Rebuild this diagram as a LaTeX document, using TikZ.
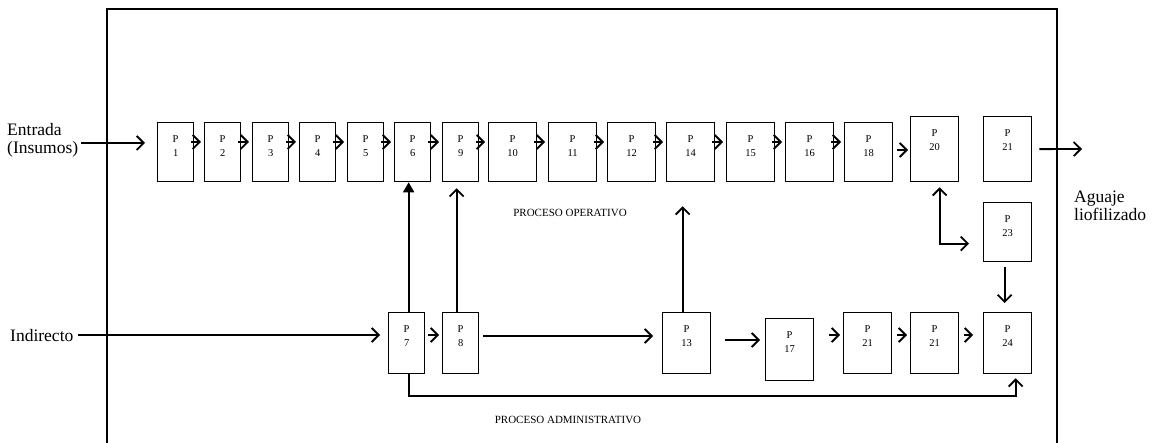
\documentclass[tikz,border=0pt]{standalone}
\usepackage{fontspec}
\setmainfont{Liberation Serif}
\usetikzlibrary{arrows.meta}

\begin{document}
\begin{tikzpicture}[x=1pt, y=-1pt, >={Straight Barb[length=7pt,width=14pt]},
        proc/.style={draw, line width=1.3pt, minimum width=36pt, minimum height=59pt, anchor=north west, inner sep=0pt},
        wide/.style={minimum width=48pt},
        ptext/.style={anchor=north, yshift=-13pt, align=center, inner sep=0pt, font=\fontsize{10.5}{14}\selectfont},
        flow/.style={->, line width=1.8pt},
        side/.style={font=\fontsize{17.5}{18}\selectfont, align=left, inner sep=0pt},
        area/.style={font=\fontsize{11}{13}\selectfont, inner sep=0pt}]
        \useasboundingbox (0,0) rectangle (1157,443);

        % marco
        \draw[line width=1.3pt] (107,443) -- (107,9) -- (1057,9) -- (1057,443);

        % proceso operativo
        \node[proc, label={[ptext]north:P\\1}] (p1) at (157,122) {};
        \node[proc, label={[ptext]north:P\\2}] (p2) at (204,122) {};
        \node[proc, label={[ptext]north:P\\3}] (p3) at (252,122) {};
        \node[proc, label={[ptext]north:P\\4}] (p4) at (299,122) {};
        \node[proc, label={[ptext]north:P\\5}] (p5) at (347,122) {};
        \node[proc, label={[ptext]north:P\\6}] (p6) at (394,122) {};
        \node[proc, label={[ptext]north:P\\9}] (p9) at (442,122) {};
        \node[proc, wide, label={[ptext]north:P\\10}] (p10) at (488,122) {};
        \node[proc, wide, label={[ptext]north:P\\11}] (p11) at (548,122) {};
        \node[proc, wide, label={[ptext]north:P\\12}] (p12) at (607,122) {};
        \node[proc, wide, label={[ptext]north:P\\14}] (p14) at (666,122) {};
        \node[proc, wide, label={[ptext]north:P\\15}] (p15) at (726,122) {};
        \node[proc, wide, label={[ptext]north:P\\16}] (p16) at (785,122) {};
        \node[proc, wide, label={[ptext]north:P\\18}] (p18) at (844,122) {};
        \node[proc, wide, minimum height=65pt, label={[ptext]north:P\\20}] (p20) at (910,116) {};
        \node[proc, wide, minimum height=65pt, label={[ptext]north:P\\21}] (p21) at (983,116) {};
        \node[proc, wide, label={[ptext]north:P\\23}] (p23) at (983,202) {};

        % proceso administrativo
        \node[proc, minimum height=61pt, label={[ptext]north:P\\7}] (p7) at (388,312) {};
        \node[proc, minimum height=61pt, label={[ptext]north:P\\8}] (p8) at (442,312) {};
        \node[proc, wide, minimum height=61pt, label={[ptext]north:P\\13}] (p13) at (662,312) {};
        \node[proc, wide, minimum height=62pt, label={[ptext]north:P\\17}] (p17) at (765,318) {};
        \node[proc, wide, minimum height=61pt, label={[ptext]north:P\\21}] (q21) at (843,312) {};
        \node[proc, wide, minimum height=61pt, label={[ptext]north:P\\21}] (r21) at (910,312) {};
        \node[proc, wide, minimum height=61pt, label={[ptext]north:P\\24}] (p24) at (983,312) {};

        % textos
        \node[side, anchor=west] (entrada) at (7,140) {Entrada\\(Insumos)};
        \node[side, anchor=west] (indirecto) at (10,336) {Indirecto};
        \node[side, anchor=west] (aguaje) at (1074,206) {Aguaje\\liofilizado};
        \node[area] (operativo) at (570,213) {PROCESO OPERATIVO};
        \node[area] (administrativo) at (568,420) {PROCESO ADMINISTRATIVO};
        \coordinate (salida) at (1082,149);

        % flechas arriba
        \draw[flow] ([xshift=3pt]entrada.east |- 0,143) -- ([xshift=-12pt]p1.west |- 0,143);
        \draw[flow] ([xshift=-3pt]p1.east |- 0,142) -- ([xshift=-3pt]p2.west |- 0,142);
        \draw[flow] ([xshift=-3pt]p2.east |- 0,142) -- ([xshift=-3pt]p3.west |- 0,142);
        \draw[flow] ([xshift=-3pt]p3.east |- 0,142) -- ([xshift=-3pt]p4.west |- 0,142);
        \draw[flow] ([xshift=-3pt]p4.east |- 0,142) -- ([xshift=-3pt]p5.west |- 0,142);
        \draw[flow] ([xshift=-3pt]p5.east |- 0,142) -- ([xshift=-3pt]p6.west |- 0,142);
        \draw[flow] ([xshift=-3pt]p6.east |- 0,142) -- ([xshift=-3pt]p9.west |- 0,142);
        \draw[flow] ([xshift=-3pt]p9.east |- 0,142) -- ([xshift=-3pt]p10.west |- 0,142);
        \draw[flow] ([xshift=-3pt]p10.east |- 0,142) -- ([xshift=-3pt]p11.west |- 0,142);
        \draw[flow] ([xshift=-3pt]p11.east |- 0,142) -- ([xshift=-3pt]p12.west |- 0,142);
        \draw[flow] ([xshift=-3pt]p12.east |- 0,142) -- ([xshift=-3pt]p14.west |- 0,142);
        \draw[flow] ([xshift=-3pt]p14.east |- 0,142) -- ([xshift=-3pt]p15.west |- 0,142);
        \draw[flow] ([xshift=-3pt]p15.east |- 0,142) -- ([xshift=-3pt]p16.west |- 0,142);
        \draw[flow] ([xshift=-3pt]p16.east |- 0,142) -- ([xshift=-3pt]p18.west |- 0,142);
        \draw[flow] ([xshift=4pt]p18.east |- 0,150) -- ([xshift=-2pt]p20.west |- 0,150);
        \draw[flow] ([xshift=7pt]p21.east) -- (salida);
        \draw[flow, <->] ([xshift=5pt,yshift=-5pt]p20.south) |- ([xshift=-14pt,yshift=-11.5pt]p23.west);
        \draw[flow] ([xshift=-3pt,yshift=-5pt]p23.south) -- ([xshift=-3pt,yshift=9pt]p24.north);

        % flechas abajo
        \draw[flow] ([xshift=4pt]indirecto.east |- 0,335) -- ([xshift=-8pt]p7.west |- 0,335);
        \draw[flow] ([xshift=3pt]p7.east |- 0,335) -- ([xshift=-3pt]p8.west |- 0,335);
        \draw[flow] ([xshift=4pt]p8.east |- 0,336) -- ([xshift=-9pt]p13.west |- 0,336);
        \draw[flow] ([xshift=14pt]p13.east |- 0,340) -- ([xshift=-5pt]p17.west |- 0,340);
        \draw[flow] ([xshift=15pt]p17.east |- 0,335) -- ([xshift=-3pt]q21.west |- 0,335);
        \draw[flow] ([xshift=5pt]q21.east |- 0,335) -- ([xshift=-3pt]r21.west |- 0,335);
        \draw[flow] ([xshift=5pt]r21.east |- 0,335) -- ([xshift=-10pt]p24.west |- 0,335);
        \draw[flow] ([xshift=2pt]p7.south) |- ([xshift=8pt,yshift=-22pt]p24.south) -- ([xshift=8pt,yshift=-4pt]p24.south);

        % flechas verticales
        \draw[line width=1.8pt, -{Triangle[length=10pt,width=11pt]}] ([xshift=2pt]p7.north) -- ([xshift=2pt]p7.north |- p6.south);
        \draw[flow] ([xshift=-4pt]p8.north) -- ([xshift=-4pt,yshift=-6pt]p8.north |- p9.south);
        \draw[flow] ([xshift=-4pt]p13.north) -- ([xshift=-4pt,yshift=-24pt]p13.north |- p14.south);
        \end{tikzpicture}
\end{document}
